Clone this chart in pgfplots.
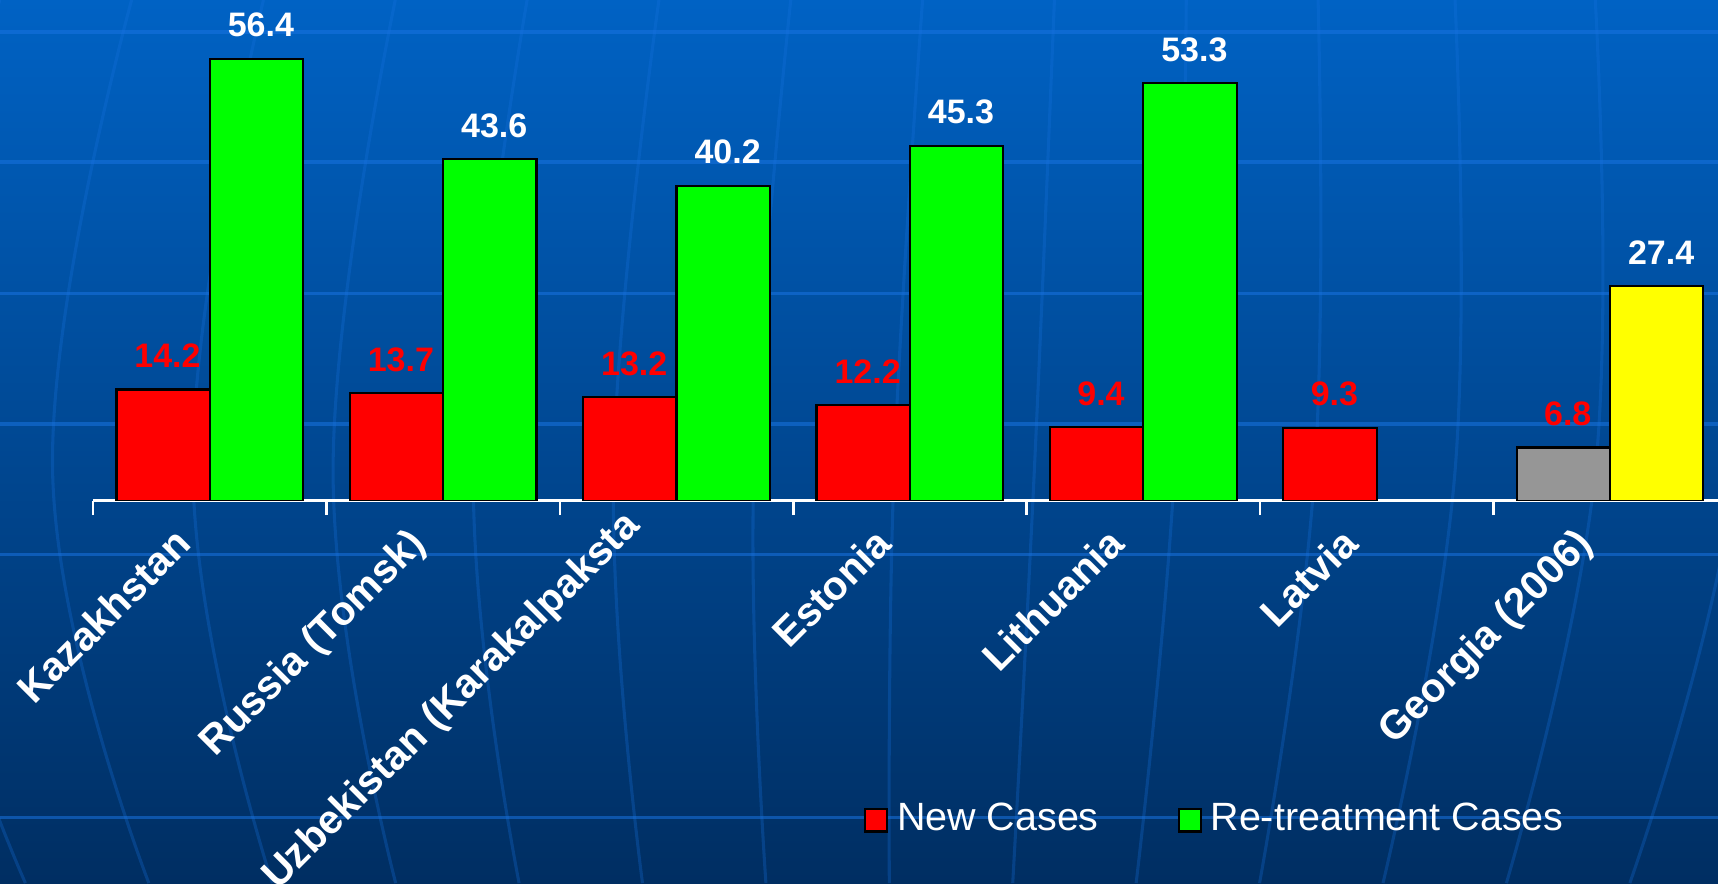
\documentclass[border=0pt]{standalone}
\usepackage{pgfplots}
\pgfplotsset{compat=1.18}
\usepackage{fontspec}
\setmainfont{Liberation Sans}
\definecolor{bgtop}{RGB}{0,98,196}
\definecolor{bgbot}{RGB}{0,46,98}
\definecolor{gridblue}{RGB}{25,115,225}
\definecolor{bargray}{RGB}{150,150,150}
\definecolor{baryellow}{RGB}{255,255,0}
\definecolor{bargreen}{RGB}{0,255,0}
\definecolor{barred}{RGB}{255,0,0}
\begin{document}
\begin{tikzpicture}
\useasboundingbox (0,0) rectangle (392pt,201.5pt);
\clip (0,0) rectangle (392pt,201.5pt);
\shade[top color=bgtop, bottom color=bgbot] (0,0) rectangle (392pt,201.5pt);
\begin{scope}[yshift=201.5pt, x=0.25pt, y=-0.25pt]
  \foreach \yy in {29,148,268,387,506,746} {
    \draw[gridblue, opacity=0.55, line width=0.8pt] (0,\yy) -- (1568,\yy);
  }
  \foreach \xm in {-80,48,...,1584} {
    \pgfmathsetmacro\xt{\xm<1250 ? \xm+0.06*(1250-\xm) : \xm}
    \pgfmathsetmacro\xb{\xm+0.12*(780-\xm)}
    \draw[gridblue, opacity=0.28, line width=0.7pt] plot[smooth, tension=0.7] coordinates {(\xt,0) (\xm,430) (\xb,806)};
  }
\end{scope}
\begin{axis}[
  at={(21.25pt,87.25pt)}, anchor=south west,
  scale only axis, width=372.75pt, height=114.25pt,
  xmin=-0.5, xmax=6.5, ymin=0, ymax=63.9,
  axis y line=none, axis x line=bottom,
  x axis line style={white, line width=0.6pt, -},
  xtick={0,...,6},
  xticklabels={Kazakhstan, Russia (Tomsk), {\raisebox{6pt}[\height][\depth]{Uzbekistan (Karakalpaksta}}, Estonia, Lithuania, Latvia, Georgia (2006)},
  major tick length=0pt,
  minor xtick={-0.5,0.5,...,5.5},
  minor tick length=3.3pt,
  tick align=outside,
  minor tick style={white, line width=0.6pt},
  xticklabel style={rotate=45, anchor=north east, text=white, font=\fontsize{9.25}{11}\selectfont\bfseries, inner sep=3pt, xshift=-6.8pt, yshift=5.2pt},
  ybar, bar width=0.4,
  nodes near coords,
  every node near coord/.append style={anchor=base, yshift=5pt, xshift=1pt, font=\fontsize{7.75}{9}\selectfont\bfseries},
  /pgf/number format/fixed,
  /pgf/number format/precision=1,
  /pgf/number format/fixed zerofill,
  /pgf/number format/assume math mode=true,
  legend columns=2,
  legend style={at={(0.4715,-0.638)}, anchor=west, draw=none, fill=none, inner sep=0pt, text=white, font=\color{white}\fontsize{9}{11}\selectfont, /tikz/every even column/.append style={column sep=16pt}},
  legend image code/.code={\draw[#1,draw=black,line width=0.5pt] (0pt,-2.6pt) rectangle (5pt,2.6pt);},
]
\addplot[fill=barred, draw=black, line width=0.5pt, bar shift=-0.2, every node near coord/.append style={text=barred}]
  coordinates {(0,14.2) (1,13.7) (2,13.2) (3,12.2) (4,9.4) (5,9.3)};
\addplot[fill=bargreen, draw=black, line width=0.5pt, bar shift=0.2, every node near coord/.append style={text=white}]
  coordinates {(0,56.4) (1,43.6) (2,40.2) (3,45.3) (4,53.3)};
\addplot[fill=bargray, draw=black, line width=0.5pt, bar shift=-0.2, every node near coord/.append style={text=barred}]
  coordinates {(6,6.8)};
\addplot[fill=baryellow, draw=black, line width=0.5pt, bar shift=0.2, every node near coord/.append style={text=white}]
  coordinates {(6,27.4)};
\legend{New Cases, Re-treatment Cases}
\end{axis}
\end{tikzpicture}
\end{document}
